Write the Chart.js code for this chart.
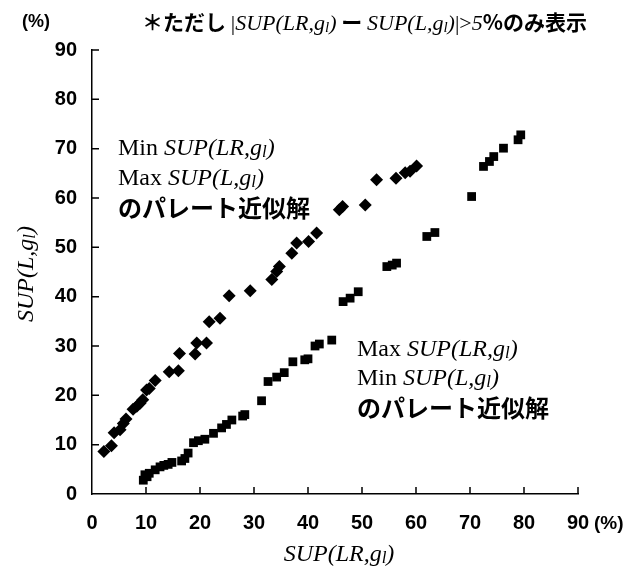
<!DOCTYPE html>
<html>
<head>
<meta charset="utf-8">
<script src="https://cdn.jsdelivr.net/npm/chart.js@4/dist/chart.umd.min.js"></script>
<style>
  html, body { margin: 0; padding: 0; background: #fff; }
  #wrap { width: 638px; height: 573px; }
</style>
</head>
<body>
<div id="wrap"><canvas id="pareto"></canvas></div>
<script>
// x = SUP(LR,gl), y = SUP(L,gl) (%)
const minLRmaxL = [
  [2.2, 8.6], [3.6, 9.8], [4.1, 12.4], [5.2, 13.0], [5.8, 14.3], [6.3, 15.2],
  [7.6, 17.2], [8.3, 17.8], [8.9, 18.4], [9.4, 19.1], [10.1, 21.1], [10.6, 21.4],
  [11.7, 23.0], [14.3, 24.8], [16.0, 25.0], [16.2, 28.5], [19.1, 28.4], [19.4, 30.6],
  [21.2, 30.6], [21.7, 34.9], [23.7, 35.6], [25.4, 40.2], [29.3, 41.2], [33.3, 43.5],
  [34.2, 45.1], [34.7, 46.1], [37.0, 48.8], [37.9, 50.9], [40.1, 51.2], [41.6, 52.9],
  [45.8, 57.6], [46.4, 58.3], [50.6, 58.6], [52.7, 63.7], [56.3, 64.0], [58.0, 65.1],
  [58.9, 65.4], [60.1, 66.5]
];
const maxLRminL = [
  [9.5, 2.8], [9.8, 3.9], [10.2, 3.5], [10.6, 4.2], [11.7, 4.9], [12.6, 5.5],
  [13.3, 5.8], [14.1, 6.0], [14.8, 6.4], [16.6, 6.7], [17.2, 7.2], [17.8, 8.3],
  [18.8, 10.4], [19.7, 10.8], [20.9, 11.1], [22.5, 12.3], [24.0, 13.4], [24.9, 14.1],
  [25.9, 15.0], [27.9, 15.8], [28.3, 16.1], [31.4, 18.9], [32.6, 22.8], [34.2, 23.7],
  [35.6, 24.6], [37.2, 26.8], [39.4, 27.2], [40.0, 27.4], [41.3, 30.0], [42.1, 30.4],
  [44.4, 31.2], [46.5, 39.0], [47.8, 39.7], [49.3, 41.0], [54.6, 46.1], [55.6, 46.4],
  [56.4, 46.8], [62.0, 52.2], [63.5, 53.0], [70.3, 60.3], [72.5, 66.4], [73.6, 67.4],
  [74.4, 68.4], [76.2, 70.1], [78.9, 71.8], [79.4, 72.8]
];
const axisMin = 0;
const axisMax = 90;
const axisStep = 10;

const SANS = '"Liberation Sans", Arial, sans-serif';
const SERIF = '"Liberation Serif", "Times New Roman", serif';
const JP = '"Noto Sans CJK JP", sans-serif';

// draws a line of mixed-font text pieces, left to right
function drawRuns(ctx, x, y, runs) {
  let cx = x;
  runs.forEach((r) => {
    ctx.font = r.f;
    ctx.fillText(r.t, cx, y + (r.dy || 0));
    cx += ctx.measureText(r.t).width + (r.gap || 0);
  });
  return cx - x;
}

function supRuns(inner, size) {
  const it = 'italic ' + size + 'px ' + SERIF;
  const sub = 'italic ' + Math.round(size * 0.7) + 'px ' + SERIF;
  return [
    { t: 'SUP(' + inner + ',g', f: it },
    { t: 'l', f: sub, dy: 2 },
    { t: ')', f: it }
  ];
}

const textPlugin = {
  id: 'texts',
  afterDraw(chart) {
    const ctx = chart.ctx;
    const xs = chart.scales.x, ys = chart.scales.y;
    ctx.save();
    ctx.fillStyle = '#000';
    ctx.strokeStyle = '#000';
    ctx.textBaseline = 'alphabetic';
    ctx.textAlign = 'left';

    // inward tick marks
    ctx.lineWidth = 1.5;
    ctx.beginPath();
    for (let v = axisMin + axisStep; v <= axisMax; v += axisStep) {
      const px = xs.getPixelForValue(v);
      ctx.moveTo(px, xs.top);
      ctx.lineTo(px, xs.top - 7);
      const py = ys.getPixelForValue(v);
      ctx.moveTo(ys.right, py);
      ctx.lineTo(ys.right + 7, py);
    }
    ctx.stroke();

    // units
    ctx.font = 'bold 18px ' + SANS;
    ctx.fillText('(%)', 22, 27);
    ctx.font = 'bold 19px ' + SANS;
    ctx.fillText('(%)', 594, 529);

    // note on top
    const jpT = 'bold 21px ' + JP;
    drawRuns(ctx, 142, 30, [
      { t: '＊ただし ', f: jpT },
      { t: '|', f: '22px ' + SERIF },
      ...supRuns('LR', 22),
      { t: ' ー ', f: jpT },
      ...supRuns('L', 22),
      { t: '|>', f: '22px ' + SERIF },
      { t: '5', f: 'italic 22px ' + SERIF },
      { t: '%のみ表示', f: jpT }
    ]);

    // series labels
    const up = '24px ' + SERIF;
    const jpL = 'bold 24px ' + JP;
    drawRuns(ctx, 118, 155, [{ t: 'Min ', f: up }, ...supRuns('LR', 24)]);
    drawRuns(ctx, 118, 185, [{ t: 'Max ', f: up }, ...supRuns('L', 24)]);
    drawRuns(ctx, 118, 217, [{ t: 'のパレート近似解', f: jpL }]);
    drawRuns(ctx, 357, 356, [{ t: 'Max ', f: up }, ...supRuns('LR', 24)]);
    drawRuns(ctx, 357, 385, [{ t: 'Min ', f: up }, ...supRuns('L', 24)]);
    drawRuns(ctx, 357, 417, [{ t: 'のパレート近似解', f: jpL }]);

    // axis titles
    ctx.save();
    ctx.globalAlpha = 0;
    const wx = drawRuns(ctx, 0, 0, supRuns('LR', 24));
    const wy = drawRuns(ctx, 0, 0, supRuns('L', 24));
    ctx.restore();
    drawRuns(ctx, 339 - wx / 2, 561, supRuns('LR', 24));
    ctx.save();
    ctx.translate(33, 274);
    ctx.rotate(-Math.PI / 2);
    drawRuns(ctx, -wy / 2, 0, supRuns('L', 24));
    ctx.restore();

    ctx.restore();
  }
};

const tickFont = { family: SANS, size: 20, weight: 'bold' };

new Chart(document.getElementById('pareto').getContext('2d'), {
  type: 'scatter',
  data: {
    datasets: [
      {
        label: 'Min SUP(LR,gl) Max SUP(L,gl)',
        data: minLRmaxL.map((p) => ({ x: p[0], y: p[1] })),
        pointStyle: 'rectRot',
        pointRadius: 6.5,
        pointHoverRadius: 6.5,
        backgroundColor: '#000',
        borderColor: '#000',
        borderWidth: 0
      },
      {
        label: 'Max SUP(LR,gl) Min SUP(L,gl)',
        data: maxLRminL.map((p) => ({ x: p[0], y: p[1] })),
        pointStyle: 'rect',
        pointRadius: 6.2,
        pointHoverRadius: 6.2,
        backgroundColor: '#000',
        borderColor: '#000',
        borderWidth: 0
      }
    ]
  },
  options: {
    responsive: true,
    maintainAspectRatio: false,
    animation: false,
    layout: {
      padding: { left: 0, top: 50, right: 60, bottom: 0 }
    },
    plugins: {
      legend: { display: false },
      tooltip: { enabled: false }
    },
    scales: {
      x: {
        type: 'linear',
        min: axisMin,
        max: axisMax,
        ticks: { stepSize: axisStep, color: '#000', font: tickFont, padding: 17, maxRotation: 0 },
        grid: { display: false, drawTicks: false },
        border: { display: true, color: '#000', width: 1.5 },
        afterFit: (s) => { s.height = 79; }
      },
      y: {
        type: 'linear',
        min: axisMin,
        max: axisMax,
        ticks: { stepSize: axisStep, color: '#000', font: tickFont, padding: 15 },
        grid: { display: false, drawTicks: false },
        border: { display: true, color: '#000', width: 1.5 },
        afterFit: (s) => { s.width = 92; }
      }
    }
  },
  plugins: [textPlugin]
});
</script>
</body>
</html>
